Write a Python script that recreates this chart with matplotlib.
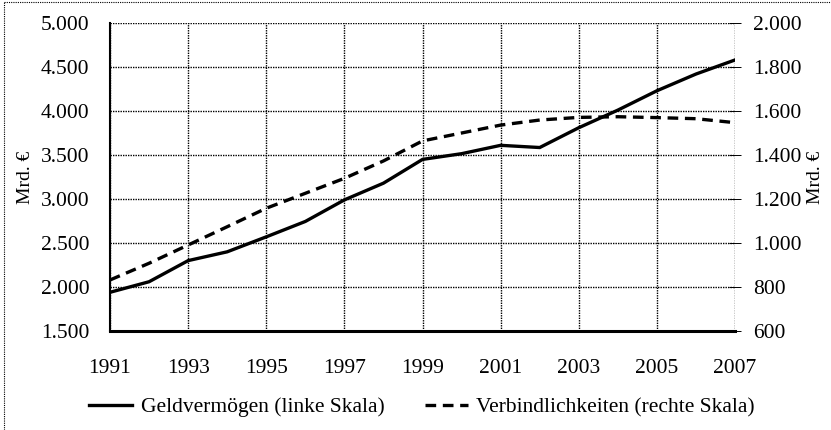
import matplotlib
matplotlib.use("Agg")
import matplotlib.pyplot as plt
from matplotlib.ticker import FuncFormatter
from matplotlib.lines import Line2D

years = list(range(1991, 2008))
geldvermoegen = [1940, 2060, 2300, 2400, 2570, 2745, 2990, 3180, 3450, 3515,
                 3610, 3585, 3810, 4010, 4230, 4420, 4580]
verbindlichkeiten = [832, 908, 991, 1074, 1158, 1226, 1294, 1373, 1464, 1500,
                     1536, 1559, 1571, 1574, 1570, 1565, 1547]
left_ticks = [1500, 2000, 2500, 3000, 3500, 4000, 4500, 5000]
right_ticks = [600, 800, 1000, 1200, 1400, 1600, 1800, 2000]
year_ticks = list(range(1991, 2008, 2))

plt.rcParams["font.family"] = ["Liberation Serif", "DejaVu Serif"]
plt.rcParams["font.size"] = 15.5


def de_fmt(v, pos):
    return f"{int(v):,}".replace(",", ".")


fig = plt.figure(figsize=(8.31, 4.30), dpi=100)
ax = fig.add_axes([0.1324, 0.2302, 0.7521, 0.7163])
ax2 = ax.twinx()

ax.plot(years, geldvermoegen, color="black", lw=2.4, solid_joinstyle="miter",
        label="Geldvermögen (linke Skala)")
ax2.plot(years, verbindlichkeiten, color="black", lw=2.4, ls=(0, (3.2, 2.0)),
         label="Verbindlichkeiten (rechte Skala)")

ax.set_xlim(1991, 2007)
ax.set_ylim(1500, 5000)
ax2.set_ylim(600, 2000)
ax.set_xticks(year_ticks)
ax.set_yticks(left_ticks)
ax2.set_yticks(right_ticks)
ax.yaxis.set_major_formatter(FuncFormatter(de_fmt))
ax2.yaxis.set_major_formatter(FuncFormatter(de_fmt))

ax.grid(True, color="black", ls=(0, (1, 0.8)), lw=1.0)
for a in (ax, ax2):
    a.spines["top"].set_visible(False)
    a.spines["right"].set_visible(False)
ax.spines["left"].set_linewidth(1.5)
ax.spines["bottom"].set_linewidth(2.2)
ax2.spines["left"].set_visible(False)
ax2.spines["bottom"].set_visible(False)

ax.tick_params(axis="y", length=0, pad=15)
ax.tick_params(axis="x", length=0, pad=20)
ax2.tick_params(axis="y", direction="inout", length=8, width=0.7, pad=9)

ax.set_ylabel("Mrd. €", fontsize=14, labelpad=5)
ax2.set_ylabel("Mrd. €", fontsize=14, rotation=90, labelpad=4)

h1, l1 = ax.get_legend_handles_labels()
h2, l2 = ax2.get_legend_handles_labels()
fig.legend(h1 + h2, l1 + l2, loc="center", bbox_to_anchor=(0.508, 1 - 407 / 430),
           ncol=2, frameon=False, handlelength=2.0, columnspacing=1.85,
           handletextpad=0.4)

fig.add_artist(Line2D([0.005, 0.005], [0, 0.996], transform=fig.transFigure,
                      color="black", lw=0.8, ls=(0, (1, 1))))
fig.add_artist(Line2D([0.005, 1], [0.996, 0.996], transform=fig.transFigure,
                      color="black", lw=0.8, ls=(0, (1, 1))))

fig.savefig("out.png", dpi=100)
